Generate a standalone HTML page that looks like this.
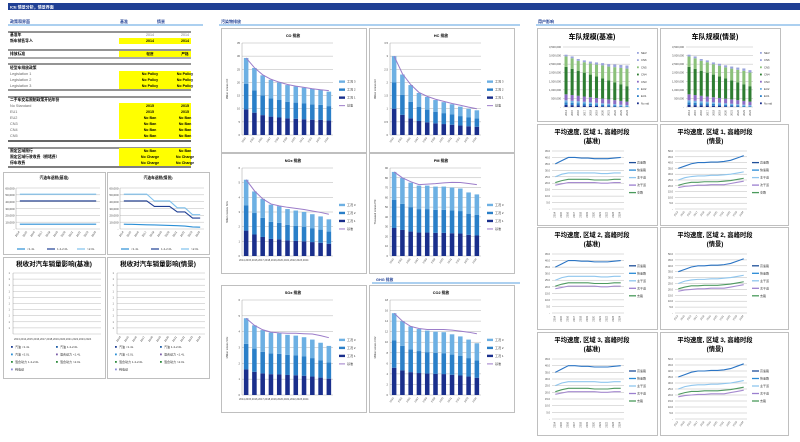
<!DOCTYPE html>
<html><head><meta charset="utf-8"><style>
body{margin:0;background:#fff;width:800px;height:442px;overflow:hidden}
svg{display:block}
text{font-family:"Liberation Sans","Noto Sans CJK SC",sans-serif}
</style></head><body>
<svg id="s" width="800" height="442" viewBox="0 0 800 442" xmlns="http://www.w3.org/2000/svg"></svg>
<script>
let s='';
const F='"Liberation Sans","Noto Sans CJK SC",sans-serif';
const SF='"Liberation Serif","Noto Serif CJK SC",serif';
function R(x,y,w,h,f,st){s+=`<rect x="${x}" y="${y}" width="${w}" height="${h}" fill="${f}"${st?` stroke="${st}" stroke-width="0.8"`:''}/>`;}
function L(x1,y1,x2,y2,c,w){s+=`<line x1="${x1}" y1="${y1}" x2="${x2}" y2="${y2}" stroke="${c}" stroke-width="${w||0.5}"/>`;}
function T(x,y,t,sz,o){o=o||{};s+=`<text x="${x}" y="${y}" font-size="${sz}" fill="${o.c||'#000'}" text-anchor="${o.a||'start'}" font-weight="${o.b?'bold':'normal'}"${o.f?` font-family='${o.f}'`:''}${o.r?` transform="rotate(${o.r} ${x} ${y})"`:''}>${t}</text>`;}
function P(pts,c,w){s+=`<polyline points="${pts.map(p=>p.join(',')).join(' ')}" fill="none" stroke="${c}" stroke-width="${w}"/>`;}
const yrs=[2014,2015,2016,2017,2018,2019,2020,2021,2022,2023,2024];
// header bar
R(8,3,792,7,'#1f3f94');
T(10,8.5,'ICE 情景分析，情景界面',4,{c:'#fff',b:1});
// section headings
T(10,23,'政策和界面',4,{c:'#1f3f94',b:1});L(8,25,203,25,'#5aa0e0',1);
T(221,23,'污染物排放',4,{c:'#1f3f94',b:1});L(219,25,520,25,'#5aa0e0',1);
T(538,23,'用户影响',4,{c:'#1f3f94',b:1});L(536,25,800,25,'#5aa0e0',1);
T(120,23,'基准',4,{c:'#1f3f94',b:1});T(157,23,'情景',4,{c:'#1f3f94',b:1});
// left table
const YL='#ffff00';
function row(y,label,v1,v2,bold,yel){ if(yel){R(119,y-4,72,6,YL);} T(10,y,label,3.8,{b:bold,c:bold?'#000':'#666'}); if(v1){T(150,y,v1,3.6,{a:'middle',b:yel,c:yel?'#000':'#777'});T(185,y,v2,3.6,{a:'middle',b:yel,c:yel?'#000':'#777'});}}
L(8,32,191,32,'#555',1.2);
row(36,'基准年','2014','2014',1,0);
row(42,'新车销售导入','2014','2014',1,1);
L(8,50,191,50,'#555',1.2);
row(55,'排放标准','轻度','严格',1,1);L(8,58,191,58,'#555',1);
L(8,64,191,64,'#555',1.2);T(10,69,'轻型车排放政策',3.8,{b:1});
row(75,'Legislation 1','No Policy','No Policy',0,1);
row(81,'Legislation 2','No Policy','No Policy',0,1);
row(87,'Legislation 3','No Policy','No Policy',0,1);
L(8,90,191,90,'#555',1.2);
L(8,97,191,97,'#555',1.2);T(10,101,'二手车交易限制政策开始年份',3.8,{b:1});
row(107,'No Standard','2015','2015',0,1);
row(113,'EU1','2015','2015',0,1);
row(119,'EU2','No Ban','No Ban',0,1);
row(125,'CN3','No Ban','No Ban',0,1);
row(131,'CN4','No Ban','No Ban',0,1);
row(137,'CN5','No Ban','No Ban',0,1);
L(8,141,191,141,'#333',1.5);
L(8,148,191,148,'#555',1.2);
row(152,'限定区域限行','No Ban','No Ban',1,1);
row(158,'限定区域行驶收费（拥堵费）','No Charge','No Charge',1,1);
row(164,'停车收费','No Charge','No Charge',1,1);
L(8,167,191,167,'#333',1.2);
function panel(x,y,w,h){R(x+0.5,y+0.5,w,h,'#fff','#b0b0b0');}
// left line charts
function leftLine(px,py,title,series){
 panel(px,py,102,82);
 T(px+51,py+7,title,3.8,{a:'middle',b:1});
 const l=px+13,r=px+97,t=py+16,b=py+57;
 for(let i=0;i<=6;i++){const y=b-(b-t)*i/6;L(l,y,r,y,'#aaa',0.4);T(l-1.5,y+1.3,i?((i*10)+',000'):'-',3,{a:'end',c:'#444'});}
 L(l,t,l,b,'#888',0.4);
 const n=11,dx=(r-l)/n;
 yrs.forEach((yy,i)=>T(l+dx*(i+0.5),b+3,yy,2.8,{a:'end',r:-55,c:'#444'}));
 series.forEach(se=>P(se.d.map((v,i)=>[l+dx*(i+0.5),b-(b-t)*v/60000]),se.c,1.1));
 const lg=[['<1.4L','#2b8fd6'],['1.4-2.0L','#1f3f94'],['>2.0L','#7ec0ec']];
 lg.forEach((g,i)=>{L(px+14+i*30,py+77,px+22+i*30,py+77,g[1],1.2);T(px+24+i*30,py+78,g[0],3,{c:'#444'});});
}
leftLine(3,172,'汽油车退税(基准)',[{c:'#7ec0ec',d:Array(11).fill(51000)},{c:'#1f3f94',d:Array(11).fill(41000)},{c:'#2b8fd6',d:Array(11).fill(7000)}]);
leftLine(107,172,'汽油车退税(情景)',[{c:'#7ec0ec',d:[51000,51000,51000,51000,41000,41000,41000,31000,31000,21000,21000]},{c:'#1f3f94',d:[41000,41000,41000,41000,33000,33000,33000,25000,25000,16000,16000]},{c:'#2b8fd6',d:[7000,6800,6500,6200,6000,5600,5200,4800,4300,3000,2600]}]);
function leftTax(px,py,title,horiz){
 panel(px,py,102,121);
 T(px+51,py+9,title,6.5,{a:'middle',b:1,f:SF});
 const l=px+10,r=px+98,t=py+16,b=py+77;
 for(let i=0;i<=10;i++){const y=b-(b-t)*i/10;L(l,y,r,y,'#aaa',0.4);if(i)T(l-3,y+1,'1',2.6,{a:'end',c:'#666'});}
 L(l,t,l,b,'#888',0.4);
 const dx=(r-l)/11;
 if(horiz)T(l+1,b+6,'2013,2014,2015,2016,2017,2018,2019,2020,2021,2022,2023,2024',2.6,{c:'#444'});
 else yrs.forEach((yy,i)=>T(l+dx*(i+0.5),b+3,yy,2.8,{a:'end',r:-55,c:'#444'}));
 const items=[['#1f3f94','汽油 <1.4L'],['#1f5fa8','汽油 1.4-2.0L'],['#2b8fd6','汽油 >2.0L'],['#7b5ea8','混合动力 <1.4L'],['#2e8b3e','混合动力 1.4-2.0L'],['#2e8b3e','混合动力 >2.0L'],['#8c8cd8','纯电动']];
 items.forEach((it,i)=>{const x=px+8+(i%2)*45,y=py+91+Math.floor(i/2)*7.5;R(x,y-2,1.8,1.8,it[0]);T(x+4,y,it[1],3,{c:'#333'});});
}
leftTax(3,257,'税收对汽车销量影响(基准)',1);
leftTax(107,257,'税收对汽车销量影响(情景)',0);
// middle bar charts
function bar(px,py,pw,ph,title,ylab,max,step,tot,line,horiz){
 panel(px,py,pw,ph);
 T(px+72,py+9,title,3.8,{a:'middle',b:1});
 const l=px+21,r=px+112,t=py+15,b=py+ph-17;
 for(let v=0;v<=max+1e-9;v+=step){const y=b-(b-t)*v/max;L(l,y,r,y,'#aaa',0.45);T(l-2,y+1,+v.toFixed(1),2.7,{a:'end',c:'#444'});}
 L(l,t,l,b,'#888',0.4);
 T(px+7,(t+b)/2,ylab,2.6,{a:'middle',r:-90,c:'#333'});
 const n=11,dx=(r-l)/n,bw=dx*0.55;
 tot.forEach((v,i)=>{const cx=l+dx*(i+0.5);const a=v*0.333,c2=v*0.333;const sc=(b-t)/max;
  R(cx-bw/2,b-a*sc,bw,a*sc,'#1a2f8c');R(cx-bw/2,b-(a+c2)*sc,bw,c2*sc,'#2a7fc8');R(cx-bw/2,b-v*sc,bw,(v-a-c2)*sc,'#6db0e3');
  if(!horiz)T(cx,b+3,yrs[i],2.6,{a:'end',r:-55,c:'#444'});});
 if(horiz)T(l-3,b+5,'2014,2015,2016,2017,2018,2019,2020,2021,2022,2023,2024',2.55,{c:'#444'});
 P(line.map((v,i)=>[l+dx*(i+0.5),b-(b-t)*v/max]),'#9c7cc9',1);
 const lg=[['#6db0e3','工况 3'],['#2a7fc8','工况 2'],['#1a2f8c','工况 1']];
 const ly=t+(b-t)*0.42;
 lg.forEach((g,i)=>{R(px+118,ly+i*8-1.2,6,2.4,g[0]);T(px+126,ly+i*8+1,g[1],3,{c:'#333'});});
 L(px+118,ly+24,px+124,ly+24,'#9c7cc9',1);T(px+126,ly+25,'基准',3,{c:'#333'});
}
bar(221,28,145,124,'CO 排放','Million tonnes CO',35,5,[29.3,25.5,22.7,21,20,19,18.5,18,17.5,17.2,16.5],[29.3,25.6,22.9,21.2,20.1,19.2,18.6,18.1,17.6,17.2,16.9]);
bar(369,28,145,124,'HC 排放','Million tonnes HC',3.5,0.5,[3,2.3,1.9,1.6,1.45,1.33,1.25,1.17,1.08,1.0,0.94],[3,2.33,1.92,1.62,1.47,1.36,1.28,1.2,1.13,1.06,1.0]);
bar(221,153,145,120,'NOx 排放','Million tonnes NOx',6,1,[5.2,4.4,3.9,3.5,3.4,3.2,3.1,3.0,2.85,2.7,2.5],[5.2,4.45,3.9,3.55,3.42,3.32,3.25,3.17,3.07,2.97,2.85],1);
bar(369,153,145,120,'PM 排放','Thousand tonnes PM',90,10,[86,80,75,72,72,71,71,70,69,65,63],[86,80,76,73,73.5,74,74.8,75.3,75.2,74.2,73]);
T(376,281,'GHG 排放',3.8,{c:'#1f3f94',b:1});L(372,283,520,283,'#5aa0e0',1);
bar(221,285,145,127,'SOx 排放','Million tonnes SOx',6,1,[4.85,4.4,4.1,3.95,3.9,3.8,3.75,3.65,3.5,3.3,3.1],[4.85,4.4,4.12,3.97,3.92,3.9,3.9,3.87,3.85,3.75,3.62],1);
bar(369,285,145,127,'CO2 排放','Million tonnes CO2',18,2,[15.5,14,13,12.5,12.2,12,11.9,11.5,11.1,10.5,9.8],[15.5,14,13,12.6,12.4,12.4,12.4,12.3,12.1,11.9,11.6]);
// right fleet charts
function fleet(px,py,title,tot){
 panel(px,py,120,93);
 T(px+55,py+11,title,7,{a:'middle',b:1,f:SF});
 const l=px+26,r=px+93,t=py+19,b=py+79,max=3500000;
 for(let i=0;i<=7;i++){const y=b-(b-t)*i/7;L(l,y,r,y,'#aaa',0.4);T(l-2,y+1,i?(i*500000).toLocaleString('en-US'):'-',2.7,{a:'end',c:'#444'});}
 const dx=(r-l)/11,bw=dx*0.5,sc=(b-t)/max;
 const cols=['#1a2f8c','#2a7fc8','#6db0e3','#8a6cc4','#2e7d32','#8bc17a','#9aa4dc'];
 tot.forEach((v,i)=>{const cx=l+dx*(i+0.5);const f=i/10;
  const parts=[120000*(1-f),150000*(1-f*.7),120000*(1-f*.5),350000*(1-f*.4),1600000-f*700000,0,0];
  const rest=v-parts.slice(0,5).reduce((a,c)=>a+c,0);parts[5]=rest*0.85;parts[6]=rest*0.15;
  let acc=0;parts.forEach((p,k)=>{R(cx-bw/2,b-(acc+p)*sc,bw,p*sc,cols[k]);acc+=p;});
  T(cx+1,b+3,yrs[i],2.6,{a:'end',r:-90,c:'#444'});});
 const lg=['NEV','CN6','CN5','CN4','CN3','EU2','EU1','No std'];const lc=['#9aa4dc','#9aa4dc','#8bc17a','#2e7d32','#8a6cc4','#6db0e3','#2a7fc8','#1a2f8c'];
 lg.forEach((g,i)=>{R(px+100,py+24+i*7.2,1.8,1.8,lc[i]);T(px+104,py+26+i*7.2,g,2.8,{c:'#333'});});
}
fleet(537,28,'车队规模(基准)',[3050000,2950000,2800000,2720000,2650000,2600000,2560000,2500000,2480000,2450000,2420000]);
fleet(660,28,'车队规模(情景)',[3050000,2950000,2800000,2720000,2600000,2520000,2430000,2360000,2300000,2250000,2150000]);
const SB=[[35,37.5,40,40,39.5,39.5,39,39,39,39.5,40],[25,27,28,28,28,28,28,27.5,27.5,28,28],[20.5,22,23,23,23,23,22.5,22.5,22.5,23,23],[18.5,19.5,20.5,20.5,20.5,20.5,20.5,20,20,20.5,20.5]];
const SS=[[35,37,39,40,40,40.5,40.5,41,42,44,46],[25,27,28,28.5,28.5,29,29,29.5,30,31,32],[20.5,22,23,23,23.5,23.5,23.5,24,24.5,25.5,26.5],[18.5,19.5,20,20.5,20.5,21,21,21,22,23,24]];
function speed(px,py,ph,title,sub,data,max,rot){
 panel(px,py,px<650?120:128,ph);
 T(px+55,py+10,title,6.3,{a:'middle',b:1,f:SF});T(px+55,py+19,sub,6.3,{a:'middle',b:1,f:SF});
 const l=px+15,r=px+87,t=py+27,b=py+ph-16;
 const n=max/5;
 for(let i=0;i<=n;i++){const y=b-(b-t)*i/n;L(l,y,r,y,'#aaa',0.4);T(l-2,y+1,i?(i*5).toFixed(1):'-',2.6,{a:'end',c:'#444'});}
 const dx=(r-l)/11;
 yrs.forEach((yy,i)=>T(l+dx*(i+0.5),b+3,yy,2.5,{a:'end',r:rot,c:'#444'}));
 const cols=['#2a74c4','#a8d4f4','#5a9e6a','#a68bd0'];const lc=['#8fc6ee','#4a9a5c','#9b7fcf'];
 [[data[0],'#2a74c4'],[data[1],'#8fc6ee'],[data[3],'#a68bd0'],[data[2],'#4f9a60']].forEach(d=>P(d[0].map((v,i)=>[l+dx*(i+0.5),b-(b-t)*v/max]),d[1],1.1));
 const lg=[['高速路','#1f4f99'],['快速路','#2a8ad6'],['主干道','#8fc6ee'],['次干道','#9b7fcf'],['支路','#4a9a5c']];
 const ly=t+(b-t)*0.2;
 lg.forEach((g,i)=>{L(px+92,ly+i*7.5,px+99,ly+i*7.5,g[1],1.3);T(px+100,ly+i*7.5+1,g[0],3,{c:'#333'});});
}
const rows=[[124,101,1],[227,102,2],[332,103,3]];
rows.forEach(rw=>{
 speed(537,rw[0],rw[1],'平均速度, 区域 '+rw[2]+', 高峰时段','(基准)',SB,45,-90);
 speed(660,rw[0],rw[1],'平均速度, 区域 '+rw[2]+', 高峰时段','(情景)',SS,50,-55);
});
document.getElementById('s').innerHTML=s;
</script>
</body></html>
